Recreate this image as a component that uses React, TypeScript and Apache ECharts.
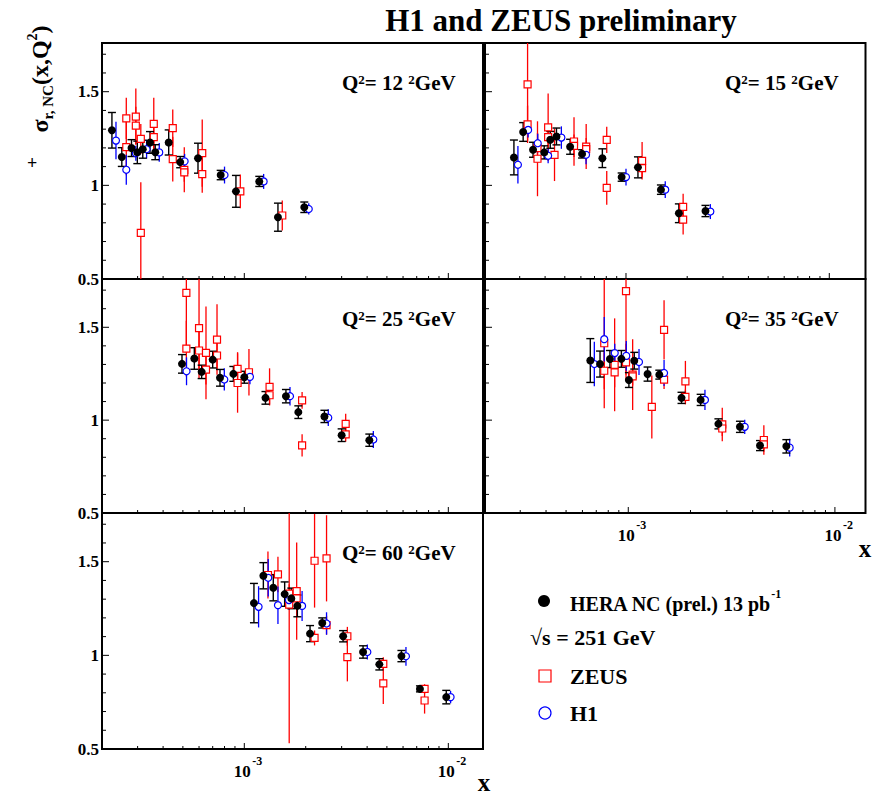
import React, { useEffect, useRef } from 'react';
import * as echarts from 'echarts';

const SERIF = "'Liberation Serif', 'Times New Roman', Times, serif";

// ---------- data: [x, sigma_r, error] ----------
const hera12 = [
  [2.245e-4, 1.294, 0.095], [2.51e-4, 1.151, 0.05], [2.8e-4, 1.199, 0.045], [2.99e-4, 1.176, 0.06],
  [3.18e-4, 1.193, 0.048], [3.45e-4, 1.229, 0.058], [3.66e-4, 1.177, 0.04], [4.26e-4, 1.229, 0.067],
  [4.85e-4, 1.124, 0.03], [5.93e-4, 1.145, 0.08], [7.66e-4, 1.055, 0.025], [9.1e-4, 0.968, 0.085],
  [1.184e-3, 1.021, 0.027], [1.462e-3, 0.83, 0.075], [1.968e-3, 0.883, 0.028],
];
const h1Q12 = [
  [2.35e-4, 1.239, 0.1], [2.64e-4, 1.083, 0.08], [2.94e-4, 1.172, 0.04], [3.32e-4, 1.193, 0.05],
  [3.83e-4, 1.176, 0.05], [5.1e-4, 1.128, 0.04], [8.0e-4, 1.055, 0.045], [1.244e-3, 1.021, 0.04],
  [2.07e-3, 0.874, 0.03],
];
const zeus12 = [
  [2.64e-4, 1.358, 0.11], [2.64e-4, 1.204, 0.15], [2.94e-4, 1.367, 0.15], [2.94e-4, 1.319, 0.1],
  [3.11e-4, 1.248, 0.08], [3.11e-4, 0.746, 0.27], [3.6e-4, 1.328, 0.14], [3.6e-4, 1.257, 0.06],
  [4.46e-4, 1.305, 0.1], [4.46e-4, 1.14, 0.12], [5.08e-4, 1.083, 0.12], [5.08e-4, 1.069, 0.05],
  [6.22e-4, 1.172, 0.18], [6.22e-4, 1.06, 0.1], [9.56e-4, 0.968, 0.09], [1.535e-3, 0.839, 0.08],
];

const hera15 = [
  [2.81e-4, 1.149, 0.093], [3.12e-4, 1.285, 0.05], [3.49e-4, 1.19, 0.04], [3.96e-4, 1.176, 0.035],
  [4.24e-4, 1.243, 0.045], [4.55e-4, 1.261, 0.045], [5.31e-4, 1.206, 0.04], [6.08e-4, 1.168, 0.022],
  [7.65e-4, 1.145, 0.05], [9.52e-4, 1.044, 0.022], [1.145e-3, 1.096, 0.056], [1.485e-3, 0.977, 0.025],
  [1.82e-3, 0.851, 0.05], [2.46e-3, 0.863, 0.03],
];
const h1Q15 = [
  [2.94e-4, 1.11, 0.1], [3.3e-4, 1.296, 0.04], [3.68e-4, 1.225, 0.05], [4.14e-4, 1.158, 0.04],
  [4.81e-4, 1.255, 0.06], [6.36e-4, 1.163, 0.05], [1.0e-3, 1.044, 0.045], [1.56e-3, 0.977, 0.045],
  [2.6e-3, 0.86, 0.04],
];
const zeus15 = [
  [3.28e-4, 1.539, 0.3], [3.28e-4, 1.326, 0.1], [3.67e-4, 1.142, 0.2], [3.67e-4, 1.199, 0.08],
  [4.14e-4, 1.31, 0.18], [4.14e-4, 1.257, 0.06], [4.45e-4, 1.163, 0.14], [5.55e-4, 1.234, 0.13],
  [5.55e-4, 1.211, 0.06], [6.37e-4, 1.207, 0.12], [6.37e-4, 1.193, 0.06], [8.04e-4, 1.243, 0.07],
  [8.04e-4, 0.986, 0.09], [1.2e-3, 1.131, 0.1], [1.2e-3, 1.092, 0.05], [1.91e-3, 0.885, 0.07],
  [1.91e-3, 0.817, 0.08],
];

const hera25 = [
  [4.95e-4, 1.303, 0.05], [5.69e-4, 1.332, 0.058], [6.18e-4, 1.26, 0.036], [7.0e-4, 1.326, 0.045],
  [7.6e-4, 1.228, 0.045], [8.84e-4, 1.249, 0.04], [1.0e-3, 1.231, 0.032], [1.27e-3, 1.12, 0.034],
  [1.6e-3, 1.129, 0.036], [1.84e-3, 1.043, 0.034], [2.47e-3, 1.02, 0.033], [3.0e-3, 0.919, 0.034],
  [4.1e-3, 0.892, 0.033],
];
const h1Q25 = [
  [5.21e-4, 1.263, 0.075], [7.98e-4, 1.219, 0.06], [1.066e-3, 1.233, 0.04], [1.675e-3, 1.129, 0.05],
  [2.58e-3, 1.013, 0.045], [4.29e-3, 0.896, 0.046],
];
const zeus25 = [
  [5.2e-4, 1.685, 0.3], [5.2e-4, 1.385, 0.15], [6.0e-4, 1.496, 0.27], [6.0e-4, 1.375, 0.12],
  [6.49e-4, 1.362, 0.25], [6.49e-4, 1.272, 0.08], [7.35e-4, 1.434, 0.19], [7.35e-4, 1.348, 0.08],
  [9.27e-4, 1.276, 0.09], [9.27e-4, 1.2, 0.16], [1.054e-3, 1.258, 0.125], [1.33e-3, 1.179, 0.1],
  [1.33e-3, 1.134, 0.05], [1.92e-3, 1.106, 0.045], [1.92e-3, 0.864, 0.06], [3.14e-3, 0.98, 0.055],
  [3.14e-3, 0.923, 0.04],
];

const hera35 = [
  [6.55e-4, 1.321, 0.118], [7.3e-4, 1.302, 0.07], [8.15e-4, 1.329, 0.046], [9.26e-4, 1.33, 0.045],
  [1.007e-3, 1.216, 0.04], [1.069e-3, 1.32, 0.045], [1.24e-3, 1.248, 0.038], [1.413e-3, 1.245, 0.024],
  [1.81e-3, 1.12, 0.03], [2.24e-3, 1.109, 0.03], [2.73e-3, 0.98, 0.027], [3.47e-3, 0.964, 0.03],
  [4.34e-3, 0.863, 0.027], [5.82e-3, 0.859, 0.036],
];
const h1Q35 = [
  [6.85e-4, 1.302, 0.12], [7.65e-4, 1.436, 0.12], [8.6e-4, 1.361, 0.05], [9.78e-4, 1.346, 0.08],
  [1.127e-3, 1.313, 0.07], [1.49e-3, 1.254, 0.07], [2.35e-3, 1.109, 0.055], [3.66e-3, 0.964, 0.038],
  [6.04e-3, 0.852, 0.048],
];
const zeus35 = [
  [7.65e-4, 1.414, 0.35], [7.65e-4, 1.266, 0.1], [8.59e-4, 1.298, 0.25], [8.59e-4, 1.257, 0.08],
  [9.75e-4, 1.695, 0.45], [9.75e-4, 1.311, 0.1], [1.05e-3, 1.245, 0.19], [1.05e-3, 1.236, 0.05],
  [1.3e-3, 1.071, 0.17], [1.49e-3, 1.486, 0.16], [1.49e-3, 1.218, 0.05], [1.89e-3, 1.209, 0.11],
  [1.89e-3, 1.125, 0.04], [2.85e-3, 0.977, 0.09], [2.85e-3, 0.955, 0.04], [4.53e-3, 0.893, 0.08],
  [4.53e-3, 0.87, 0.04],
];

const hera60 = [
  [1.115e-3, 1.279, 0.105], [1.24e-3, 1.425, 0.07], [1.387e-3, 1.361, 0.07], [1.577e-3, 1.327, 0.065],
  [1.7e-3, 1.304, 0.055], [1.82e-3, 1.264, 0.058], [2.1e-3, 1.116, 0.043], [2.41e-3, 1.173, 0.027],
  [3.05e-3, 1.102, 0.03], [3.82e-3, 1.018, 0.033], [4.59e-3, 0.952, 0.03], [5.89e-3, 0.996, 0.03],
  [7.26e-3, 0.821, 0.016], [9.77e-3, 0.777, 0.036],
];
const h1Q60 = [
  [1.175e-3, 1.259, 0.11], [1.31e-3, 1.414, 0.1], [1.462e-3, 1.268, 0.1], [1.655e-3, 1.295, 0.05],
  [1.92e-3, 1.264, 0.08], [2.53e-3, 1.17, 0.06], [4.01e-3, 1.018, 0.04], [6.2e-3, 0.995, 0.05],
  [1.026e-2, 0.777, 0.033],
];
const zeus60 = [
  [1.306e-3, 1.429, 0.125], [1.462e-3, 1.432, 0.095], [1.66e-3, 1.271, 0.74], [1.66e-3, 1.33, 0.05],
  [1.806e-3, 1.343, 0.26], [1.806e-3, 1.304, 0.05], [2.21e-3, 1.505, 0.25], [2.21e-3, 1.093, 0.04],
  [2.53e-3, 1.518, 0.23], [2.53e-3, 1.161, 0.05], [3.2e-3, 1.102, 0.05], [3.2e-3, 0.991, 0.13],
  [4.8e-3, 0.955, 0.035], [4.8e-3, 0.85, 0.11], [7.65e-3, 0.821, 0.025], [7.65e-3, 0.759, 0.07],
];

const q2Values = ['12', '15', '25', '35', '60'];
const heraSets = [hera12, hera15, hera25, hera35, hera60];
const h1Sets = [h1Q12, h1Q15, h1Q25, h1Q35, h1Q60];
const zeusSets = [zeus12, zeus15, zeus25, zeus35, zeus60];

const yLabelValues = [0.5, 1, 1.5];
const xTickMinor = [2e-4, 3e-4, 4e-4, 5e-4, 6e-4, 7e-4, 8e-4, 9e-4, 2e-3, 3e-3, 4e-3, 5e-3, 6e-3, 7e-3, 8e-3, 9e-3];
const xTickMajor = [1e-3, 1e-2];
const yTickMinor = [0.6, 0.7, 0.8, 0.9, 1.1, 1.2, 1.3, 1.4, 1.6, 1.7];
const yTickMajor = [1.0, 1.5];

const Y_MIN = 0.5;
const Y_MAX = 1.76;

// ---------- layout ----------
const LAYOUT = [
  { left: 102, top: 43, width: 381, height: 236, xMin: 2.007e-4, xMax: 0.01479, yLabels: true, xLabels: false },
  { left: 485, top: 43, width: 380.5, height: 236, xMin: 2.025e-4, xMax: 0.01507, yLabels: false, xLabels: false },
  { left: 102, top: 279, width: 381, height: 234, xMin: 2.007e-4, xMax: 0.01479, yLabels: true, xLabels: false },
  { left: 485, top: 279, width: 380.5, height: 234, xMin: 2.026e-4, xMax: 0.01406, yLabels: false, xLabels: true },
  { left: 102, top: 513, width: 381, height: 236, xMin: 2.007e-4, xMax: 0.01479, yLabels: true, xLabels: true },
];

const RED = '#ff0000';
const BLUE = '#0000ff';

function decadeExp(v: number): number | null {
  const e = Math.log10(v);
  const r = Math.round(e);
  return Math.abs(e - r) < 1e-6 ? r : null;
}

function errorSeries(data: number[][], idx: number, color: string, lw: number, cap: number) {
  return {
    type: 'custom',
    xAxisIndex: idx,
    yAxisIndex: idx,
    silent: true,
    data,
    renderItem: (params: any, api: any) => {
      const x = api.value(0);
      const y = api.value(1);
      const e = api.value(2);
      const lo = Math.max(Y_MIN, y - e);
      const hi = Math.min(Y_MAX, y + e);
      const a = api.coord([x, lo]);
      const b = api.coord([x, hi]);
      const st = { stroke: color, lineWidth: lw };
      const children: any[] = [
        { type: 'line', shape: { x1: a[0], y1: a[1], x2: b[0], y2: b[1] }, style: st },
      ];
      if (cap > 0) {
        children.push({ type: 'line', shape: { x1: a[0] - cap, y1: a[1], x2: a[0] + cap, y2: a[1] }, style: st });
        children.push({ type: 'line', shape: { x1: b[0] - cap, y1: b[1], x2: b[0] + cap, y2: b[1] }, style: st });
      }
      return { type: 'group', children };
    },
  };
}

function tickSeries(idx: number, L: any) {
  const xt = [
    ...xTickMinor.map((v) => [v, Y_MIN, 0]),
    ...xTickMajor.map((v) => [v, Y_MIN, 1]),
  ];
  const yt = [
    ...yTickMinor.map((v) => [L.xMin, v, 0]),
    ...yTickMajor.map((v) => [L.xMin, v, 1]),
  ];
  const out: any[] = [
    {
      type: 'custom', xAxisIndex: idx, yAxisIndex: idx, silent: true, data: xt, z: 5,
      renderItem: (params: any, api: any) => {
        const x = api.value(0);
        if (x <= L.xMin * 1.01 || x >= L.xMax) return null;
        const p = api.coord([x, Y_MIN]);
        const len = api.value(2) ? 6 : 3;
        return { type: 'line', shape: { x1: p[0], y1: p[1], x2: p[0], y2: p[1] - len }, style: { stroke: '#000', lineWidth: 1 } };
      },
    },
    {
      type: 'custom', xAxisIndex: idx, yAxisIndex: idx, silent: true, data: yt, z: 5,
      renderItem: (params: any, api: any) => {
        const p = api.coord([api.value(0), api.value(1)]);
        const len = api.value(2) ? 7 : 4;
        return { type: 'line', shape: { x1: p[0], y1: p[1], x2: p[0] + len, y2: p[1] }, style: { stroke: '#000', lineWidth: 1 } };
      },
    },
  ];
  if (L.xLabels) {
    // decade tick labels 10^n, placed through the log scale
    out.push({
      type: 'custom', xAxisIndex: idx, yAxisIndex: idx, silent: true, z: 6,
      data: xTickMajor.map((v) => [v, Y_MIN]),
      renderItem: (params: any, api: any) => {
        const x = api.value(0);
        const r = decadeExp(x);
        if (r === null || x <= L.xMin || x >= L.xMax) return null;
        const p = api.coord([x, Y_MIN]);
        return {
          type: 'group',
          children: [
            { type: 'text', x: p[0] - 2, y: p[1] + 22, style: { text: '10', font: `bold 17px ${SERIF}`, fill: '#000', align: 'center', verticalAlign: 'middle' } },
            { type: 'text', x: p[0] + 8, y: p[1] + 12, style: { text: String(r), font: `bold 12px ${SERIF}`, fill: '#000', align: 'left', verticalAlign: 'middle' } },
          ],
        };
      },
    });
  }
  return out;
}

function buildOption() {
  const grid: any[] = [];
  const xAxis: any[] = [];
  const yAxis: any[] = [];
  const series: any[] = [];
  const graphic: any[] = [];

  LAYOUT.forEach((L, i) => {
    grid.push({
      left: L.left, top: L.top, width: L.width, height: L.height,
      show: true, borderColor: '#000', borderWidth: 2, backgroundColor: 'transparent',
      containLabel: false, outerBoundsMode: 'none',
    });
    xAxis.push({
      type: 'log', logBase: 10, gridIndex: i, min: L.xMin, max: L.xMax, position: 'bottom',
      axisLine: { show: false }, axisTick: { show: false }, splitLine: { show: false },
      minorTick: { show: false }, minorSplitLine: { show: false },
      axisLabel: { show: false },
    });
    yAxis.push({
      type: 'value', gridIndex: i, min: Y_MIN, max: Y_MAX, interval: 0.5,
      axisLine: { show: false }, axisTick: { show: false }, splitLine: { show: false },
      axisLabel: {
        show: L.yLabels, margin: 3, fontSize: 17, fontWeight: 'bold', fontFamily: SERIF, color: '#000',
        formatter: (v: number) => (yLabelValues.some((t) => Math.abs(t - v) < 1e-6) ? String(v) : ''),
      },
    });

    const zeus = zeusSets[i];
    const h1 = h1Sets[i];
    const hera = heraSets[i];
    series.push(errorSeries(zeus, i, RED, 1.3, 0));
    series.push({
      type: 'scatter', xAxisIndex: i, yAxisIndex: i, silent: true,
      data: zeus.map((d) => [d[0], d[1]]),
      symbol: 'rect', symbolSize: 7,
      itemStyle: { color: '#ffffff', borderColor: RED, borderWidth: 1.2, opacity: 1 },
    });
    series.push(errorSeries(h1, i, BLUE, 1.3, 0));
    series.push({
      type: 'scatter', xAxisIndex: i, yAxisIndex: i, silent: true,
      data: h1.map((d) => [d[0], d[1]]),
      symbol: 'circle', symbolSize: 7,
      itemStyle: { color: '#ffffff', borderColor: BLUE, borderWidth: 1.2, opacity: 1 },
    });
    series.push(errorSeries(hera, i, '#000', 1.4, 4));
    series.push({
      type: 'scatter', xAxisIndex: i, yAxisIndex: i, silent: true,
      data: hera.map((d) => [d[0], d[1]]),
      symbol: 'circle', symbolSize: 8,
      itemStyle: { color: '#000', opacity: 1 },
    });
    series.push(...tickSeries(i, L));

    // Q^2 label
    graphic.push({
      type: 'text', x: L.left + 240, y: L.top + 40, z: 10,
      style: {
        text: `{m|Q}{s|2}{m|= ${q2Values[i]} }{s|2}{m|GeV}`,
        align: 'left', verticalAlign: 'middle',
        rich: {
          m: { fontSize: 21, fontWeight: 'bold', fontFamily: SERIF, fill: '#000', lineHeight: 21, verticalAlign: 'bottom', padding: [9, 0, 0, 0] },
          s: { fontSize: 13, fontWeight: 'bold', fontFamily: SERIF, fill: '#000', lineHeight: 13, verticalAlign: 'top' },
        },
      },
    });
  });

  // title
  graphic.push({
    type: 'text', x: 561, y: 20,
    style: { text: 'H1 and ZEUS preliminary', fill: '#000', font: `bold 31px ${SERIF}`, align: 'center', verticalAlign: 'middle' },
  });
  // y-axis title
  graphic.push({
    type: 'text', x: 40, y: 79, rotation: Math.PI / 2,
    style: {
      text: '{a|σ}{b|r, NC}{a|(x,Q}{c|2}{a|)}',
      align: 'center', verticalAlign: 'middle',
      rich: {
        a: { fontSize: 24, fontWeight: 'bold', fontFamily: SERIF, fill: '#000', lineHeight: 30 },
        b: { fontSize: 15, fontWeight: 'bold', fontFamily: SERIF, fill: '#000', lineHeight: 15, verticalAlign: 'bottom' },
        c: { fontSize: 14, fontWeight: 'bold', fontFamily: SERIF, fill: '#000', lineHeight: 14, verticalAlign: 'top' },
      },
    },
  });
  graphic.push({
    type: 'text', x: 32, y: 163,
    style: { text: '+', fill: '#000', font: `bold 18px ${SERIF}`, align: 'center', verticalAlign: 'middle' },
  });
  // x axis names
  graphic.push({
    type: 'text', x: 484, y: 782,
    style: { text: 'x', fill: '#000', font: `bold 25px ${SERIF}`, align: 'center', verticalAlign: 'middle' },
  });
  graphic.push({
    type: 'text', x: 865, y: 548,
    style: { text: 'x', fill: '#000', font: `bold 25px ${SERIF}`, align: 'center', verticalAlign: 'middle' },
  });

  // legend
  graphic.push({ type: 'circle', shape: { cx: 544, cy: 601, r: 6 }, style: { fill: '#000' } });
  graphic.push({
    type: 'text', x: 570, y: 601,
    style: {
      text: '{m|HERA NC (prel.) 13 pb}{s|-1}', align: 'left', verticalAlign: 'middle',
      rich: {
        m: { fontSize: 20, fontWeight: 'bold', fontFamily: SERIF, fill: '#000', lineHeight: 26, verticalAlign: 'bottom' },
        s: { fontSize: 12, fontWeight: 'bold', fontFamily: SERIF, fill: '#000', lineHeight: 12, verticalAlign: 'top' },
      },
    },
  });
  graphic.push({
    type: 'text', x: 530, y: 637,
    style: { text: '√s = 251 GeV', fill: '#000', font: `bold 22px ${SERIF}`, align: 'left', verticalAlign: 'middle' },
  });
  graphic.push({ type: 'rect', shape: { x: 539, y: 670, width: 12, height: 12 }, style: { fill: '#fff', stroke: RED, lineWidth: 1.2 } });
  graphic.push({
    type: 'text', x: 570, y: 676,
    style: { text: 'ZEUS', fill: '#000', font: `bold 22px ${SERIF}`, align: 'left', verticalAlign: 'middle' },
  });
  graphic.push({ type: 'circle', shape: { cx: 545, cy: 713, r: 6 }, style: { fill: '#fff', stroke: BLUE, lineWidth: 1.2 } });
  graphic.push({
    type: 'text', x: 570, y: 713,
    style: { text: 'H1', fill: '#000', font: `bold 22px ${SERIF}`, align: 'left', verticalAlign: 'middle' },
  });

  return {
    animation: false,
    backgroundColor: '#ffffff',
    grid, xAxis, yAxis, series, graphic,
  };
}

export default function App() {
  const ref = useRef<HTMLDivElement>(null);
  useEffect(() => {
    if (!ref.current) return;
    const chart = echarts.init(ref.current, undefined, { renderer: 'svg' });
    chart.setOption(buildOption() as any);
    return () => chart.dispose();
  }, []);
  return <div ref={ref} style={{ position: 'absolute', left: 0, top: 0, width: 886, height: 797 }} />;
}
